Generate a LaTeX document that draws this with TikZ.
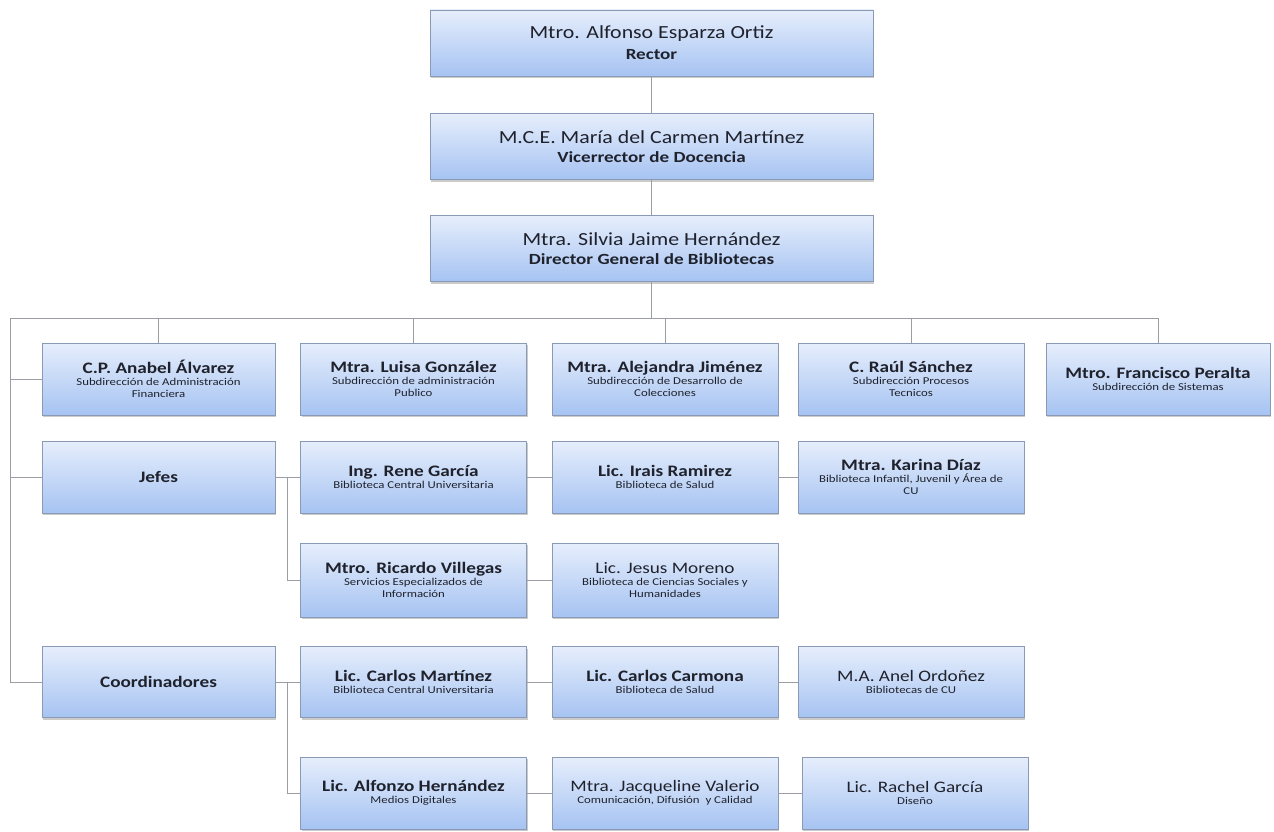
\documentclass[tikz,border=0pt]{standalone}
\usepackage{fontspec}
\usepackage{graphicx}
\setmainfont{Carlito}
\usetikzlibrary{shadows}

\definecolor{boxtop}{HTML}{E6EEFC}
\definecolor{boxbot}{HTML}{A6C3F2}
\definecolor{boxline}{HTML}{8A9AB4}
\definecolor{linkc}{HTML}{9A9EA4}
\definecolor{inkc}{HTML}{1F222C}

% name, role and unit lines inside the boxes (set slightly wide)
\newcommand{\topname}[1]{\scalebox{1.18}[1]{\fontsize{18.5}{21}\selectfont #1}}
\newcommand{\toprole}[1]{\scalebox{1.23}[1]{\fontsize{15.5}{18}\selectfont\bfseries #1}}
\newcommand{\nm}[1]{\scalebox{1.2}[1]{\fontsize{16}{18}\selectfont\bfseries #1}}
\newcommand{\nmr}[1]{\scalebox{1.2}[1]{\fontsize{16}{18}\selectfont #1}}
\newcommand{\unit}[1]{\scalebox{1.22}[1]{\fontsize{10.5}{11.5}\selectfont #1}}

\begin{document}
\begin{tikzpicture}[x=1pt,y=-1pt,
  orgbox/.style={draw=boxline, line width=0.8pt, top color=boxtop, bottom color=boxbot,
    align=center, inner sep=2pt, text=inkc, minimum height=72,
    font=\fontsize{10.5}{12}\selectfont,
    drop shadow={shadow xshift=1.2pt, shadow yshift=-2pt, fill=black!45, opacity=0.45}},
  topbox/.style={orgbox, minimum width=443, minimum height=66},
  wbox/.style={orgbox, minimum width=233},
  nbox/.style={orgbox, minimum width=226},
  link/.style={draw=linkc, line width=1pt}]

\useasboundingbox (0,0) rectangle (1274,832);

% top of the hierarchy
\node[topbox] (rector) at (651.5,43)    {\topname{Mtro. Alfonso Esparza Ortiz}\\[7pt]\toprole{Rector}};
\node[topbox] (vice)   at (651.5,146.5) {\topname{M.C.E. María del Carmen Martínez}\\[7pt]\toprole{Vicerrector de Docencia}};
\node[topbox] (dir)    at (651.5,248.5) {\topname{Mtra. Silvia Jaime Hernández}\\[7pt]\toprole{Director General de Bibliotecas}};

% subdirections
\node[wbox] (anabel)    at (158.5,379) {\nm{C.P. Anabel Álvarez}\\\unit{Subdirección de Administración}\\\unit{Financiera}};
\node[nbox] (luisa)     at (413.5,379) {\nm{Mtra. Luisa González}\\\unit{Subdirección de administración}\\\unit{Publico}};
\node[nbox] (alejandra) at (665,379)   {\nm{Mtra. Alejandra Jiménez}\\\unit{Subdirección de Desarrollo de}\\\unit{Colecciones}};
\node[nbox] (raul)      at (911,379)   {\nm{C. Raúl Sánchez}\\\unit{Subdirección Procesos}\\\unit{Tecnicos}};
\node[nbox, minimum width=224] (francisco) at (1158,379) {\nm{Mtro. Francisco Peralta}\\\unit{Subdirección de Sistemas}};

% heads
\node[wbox] (jefes)    at (158.5,477) {\nm{Jefes}};
\node[nbox] (rene)     at (413.5,477) {\nm{Ing. Rene García}\\\unit{Biblioteca Central Universitaria}};
\node[nbox] (irais)    at (665,477)   {\nm{Lic. Irais Ramirez}\\\unit{Biblioteca de Salud}};
\node[nbox] (karina)   at (911,477)   {\nm{Mtra. Karina Díaz}\\\unit{Biblioteca Infantil, Juvenil y Área de}\\\unit{CU}};
\node[nbox, minimum height=74] (villegas) at (413.5,580) {\nm{Mtro. Ricardo Villegas}\\\unit{Servicios Especializados de}\\\unit{Información}};
\node[nbox, minimum height=74] (jesus)    at (665,580)   {\nmr{Lic. Jesus Moreno}\\\unit{Biblioteca de Ciencias Sociales y}\\\unit{Humanidades}};

% coordinators
\node[wbox, minimum height=71] (coord)   at (158.5,682) {\nm{Coordinadores}};
\node[nbox, minimum height=71] (carlosm) at (413.5,682) {\nm{Lic. Carlos Martínez}\\\unit{Biblioteca Central Universitaria}};
\node[nbox, minimum height=71] (carmona) at (665,682)   {\nm{Lic. Carlos Carmona}\\\unit{Biblioteca de Salud}};
\node[nbox, minimum height=71] (anel)    at (911,682)   {\nmr{M.A. Anel Ordoñez}\\\unit{Bibliotecas de CU}};
\node[nbox] (alfonzo)    at (413.5,793) {\nm{Lic. Alfonzo Hernández}\\\unit{Medios Digitales}};
\node[nbox] (jacqueline) at (665,793)   {\nmr{Mtra. Jacqueline Valerio}\\\unit{Comunicación, Difusión \ y Calidad}};
\node[nbox] (rachel)     at (915,793)   {\nmr{Lic. Rachel García}\\\unit{Diseño}};

% connectors
\coordinate (busL) at (10,318);
\coordinate (busR) at (1158,318);
\coordinate (jelbow) at (287,477);
\coordinate (celbow) at (287,682);

\draw[link] (rector) -- (vice);
\draw[link] (vice) -- (dir);
\draw[link] (dir.south) -- (dir.south |- busL);
\draw[link] (busL) -- (busR);
\foreach \n in {anabel,luisa,alejandra,raul,francisco}
  \draw[link] (\n.north |- busL) -- (\n.north);
\draw[link] (busL) |- (coord.west);
\draw[link] (busL |- anabel.west) -- (anabel.west);
\draw[link] (busL |- jefes.west) -- (jefes.west);

\draw[link] (jefes.east) -- (rene.west);
\draw[link] (jelbow) |- (villegas.west);
\draw[link] (rene) -- (irais);
\draw[link] (irais) -- (karina);
\draw[link] (villegas) -- (jesus);

\draw[link] (coord.east) -- (carlosm.west);
\draw[link] (celbow) |- (alfonzo.west);
\draw[link] (carlosm) -- (carmona);
\draw[link] (carmona) -- (anel);
\draw[link] (alfonzo) -- (jacqueline);
\draw[link] (jacqueline) -- (rachel);
\end{tikzpicture}
\end{document}
